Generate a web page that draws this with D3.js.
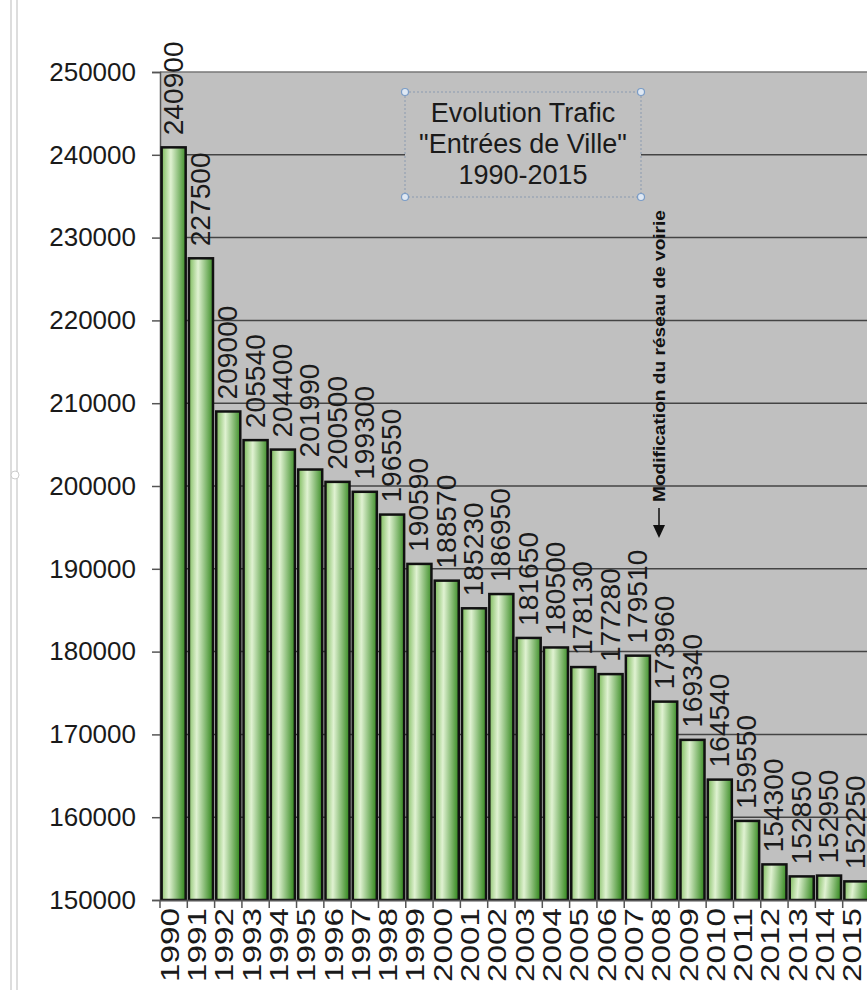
<!DOCTYPE html>
<html>
<head>
<meta charset="utf-8">
<script src="https://cdn.jsdelivr.net/npm/d3@7/dist/d3.min.js"></script>
<style>
  body { margin: 0; background: #fff; }
  svg { display: block; font-family: Arial, "Liberation Sans", sans-serif; }
</style>
</head>
<body>
<svg id="chart" width="867" height="990"></svg>
<script>
var years = ['1990','1991','1992','1993','1994','1995','1996','1997','1998','1999','2000','2001','2002',
  '2003','2004','2005','2006','2007','2008','2009','2010','2011','2012','2013','2014','2015'];
var traffic = [240900, 227500, 209000, 205540, 204400, 201990, 200500, 199300, 196550, 190590, 188570,
  185230, 186950, 181650, 180500, 178130, 177280, 179510, 173960, 169340, 164540, 159550, 154300,
  152850, 152950, 152250];
var yTicks = [150000, 160000, 170000, 180000, 190000, 200000, 210000, 220000, 230000, 240000, 250000];
var titleLines = ['Evolution Trafic', '"Entrées de Ville"', '1990-2015'];
var note = 'Modification du réseau de voirie';

var margin = {top: 72, left: 160, bottom: 90},
    width = 870,
    height = 990;

var svg = d3.select('#chart');

var x = d3.scaleBand().domain(years).range([margin.left, width]).paddingInner(0.12).paddingOuter(0.06);
var y = d3.scaleLinear().domain([150000, 250000]).range([height - margin.bottom, margin.top]);

// window frame on left
svg.append('line').attr('x1', 11).attr('x2', 11).attr('y1', 0).attr('y2', 990).attr('stroke', '#ddd').attr('stroke-width', 2);
svg.append('line').attr('x1', 17).attr('x2', 17).attr('y1', 0).attr('y2', 990).attr('stroke', '#ddd').attr('stroke-width', 2);
svg.append('circle').attr('cx', 15).attr('cy', 475).attr('r', 4).attr('fill', '#fff').attr('stroke', '#ccc');

var defs = svg.append('defs');
var grad = defs.append('linearGradient').attr('id', 'barGrad').attr('x1', '0%').attr('x2', '100%').attr('y1', '0%').attr('y2', '8%');
grad.append('stop').attr('offset', '0%').attr('stop-color', '#7dbb5c');
grad.append('stop').attr('offset', '38%').attr('stop-color', '#e0f2d2');
grad.append('stop').attr('offset', '100%').attr('stop-color', '#3f8f2a');

// plot background
svg.append('rect')
  .attr('x', margin.left).attr('y', y(250000))
  .attr('width', width - margin.left).attr('height', y(150000) - y(250000))
  .attr('fill', '#c0c0c0');

// gridlines
svg.append('g').selectAll('line')
  .data(yTicks.slice(1))
  .enter().append('line')
    .attr('x1', margin.left).attr('x2', width)
    .attr('y1', function (d) { return y(d); }).attr('y2', function (d) { return y(d); })
    .attr('stroke', function (d) { return d === 250000 ? '#777' : '#444'; })
    .attr('stroke-width', 1.5);

// y axis
var yAxis = svg.append('g')
  .attr('transform', 'translate(' + margin.left + ',0)')
  .call(d3.axisLeft(y).tickValues(yTicks).tickSize(8).tickPadding(16).tickFormat(d3.format('d')));
yAxis.select('.domain').attr('stroke', '#555').attr('stroke-width', 1.5);
yAxis.selectAll('.tick line').attr('stroke', '#555').attr('stroke-width', 1.5);
yAxis.selectAll('text').attr('font-size', 26).attr('fill', '#1a1a1a').attr('font-family', 'Arial, "Liberation Sans", sans-serif');

// bars
svg.append('g').selectAll('rect')
  .data(traffic)
  .enter().append('rect')
    .attr('x', function (d, i) { return x(years[i]); })
    .attr('y', function (d) { return y(d); })
    .attr('width', x.bandwidth())
    .attr('height', function (d) { return y(150000) - y(d); })
    .attr('fill', 'url(#barGrad)')
    .attr('stroke', '#111')
    .attr('stroke-width', 2.5);

// value labels
svg.append('g').selectAll('text')
  .data(traffic)
  .enter().append('text')
    .attr('transform', function (d, i) {
      return 'translate(' + (x(years[i]) + x.bandwidth() / 2 + 9) + ',' + (y(d) - 12) + ') rotate(-90)';
    })
    .attr('font-size', 27)
    .attr('fill', '#1a1a1a')
    .attr('textLength', 94)
    .attr('lengthAdjust', 'spacingAndGlyphs')
    .text(function (d) { return d; });

// x axis
var xAxis = svg.append('g')
  .attr('transform', 'translate(0,' + y(150000) + ')')
  .call(d3.axisBottom(x).tickSize(0).tickPadding(0));
xAxis.select('.domain').attr('stroke', '#555').attr('stroke-width', 1.5);
xAxis.selectAll('text')
  .attr('transform', 'rotate(-90)')
  .attr('text-anchor', 'end')
  .attr('x', -8).attr('y', 5).attr('dy', 0)
  .attr('font-size', 26).attr('fill', '#1a1a1a')
  .attr('textLength', 74)
  .attr('lengthAdjust', 'spacingAndGlyphs')
  .attr('font-family', 'Arial, "Liberation Sans", sans-serif');

// tick marks between bars
var step = x.step();
svg.append('g').selectAll('line')
  .data(years)
  .enter().append('line')
    .attr('x1', function (d) { return x(d) - (step - x.bandwidth()) / 2; })
    .attr('x2', function (d) { return x(d) - (step - x.bandwidth()) / 2; })
    .attr('y1', y(150000)).attr('y2', y(150000) + 8)
    .attr('stroke', '#555').attr('stroke-width', 1.5);

// title box
var tb = {x: 405, y: 92, w: 236, h: 105};
svg.append('rect').attr('x', tb.x).attr('y', tb.y).attr('width', tb.w).attr('height', tb.h)
  .attr('fill', '#c0c0c0').attr('stroke', '#8a9ab0').attr('stroke-dasharray', '2,2');
[[0,0],[1,0],[0,1],[1,1]].forEach(function (c) {
  svg.append('circle').attr('cx', tb.x + c[0] * tb.w).attr('cy', tb.y + c[1] * tb.h).attr('r', 3.5)
    .attr('fill', '#dfe8f3').attr('stroke', '#7a9cc6').attr('stroke-width', 1.2);
});
svg.append('g').selectAll('text')
  .data(titleLines)
  .enter().append('text')
    .attr('x', tb.x + tb.w / 2)
    .attr('y', function (d, i) { return 122 + i * 31; })
    .attr('text-anchor', 'middle')
    .attr('font-size', 27)
    .attr('fill', '#1a1a1a')
    .text(function (d) { return d; });

// annotation
svg.append('text')
  .attr('transform', 'translate(665,356) rotate(-90)')
  .attr('text-anchor', 'middle')
  .attr('font-size', 17)
  .attr('font-weight', 'bold')
  .attr('fill', '#111')
  .attr('textLength', 292)
  .attr('lengthAdjust', 'spacingAndGlyphs')
  .text(note);
svg.append('line').attr('x1', 659).attr('x2', 659).attr('y1', 508).attr('y2', 528).attr('stroke', '#111').attr('stroke-width', 1.5);
svg.append('path').attr('d', 'M653,525 L665,525 L659,538 Z').attr('fill', '#111');
</script>
</body>
</html>
